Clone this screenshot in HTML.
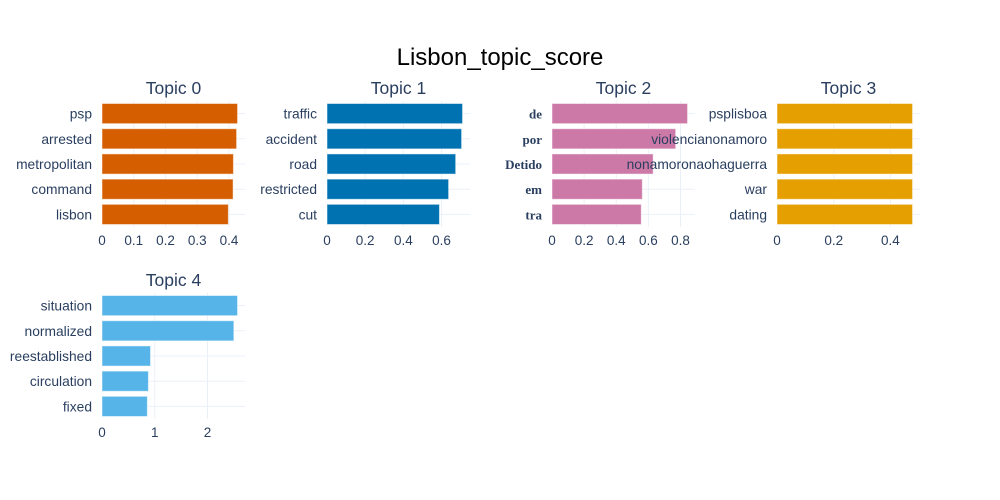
<!DOCTYPE html>
<html><head><meta charset="utf-8">
<style>
html,body{margin:0;padding:0;background:#fff;}
svg{display:block;font-family:"Liberation Sans",sans-serif;}
</style></head>
<body>
<svg id="chart" width="1000" height="500" viewBox="0 0 1000 500">
<text x="500" y="65" text-anchor="middle" font-size="24" fill="#000">Lisbon_topic_score</text>
</svg>
<script>
const topicTitles = ["Topic 0","Topic 1","Topic 2","Topic 3","Topic 4"];
const words0 = ["psp","arrested","metropolitan","command","lisbon"];
const words1 = ["traffic","accident","road","restricted","cut"];
const words2 = ["de","por","Detido","em","tra"];
const words3 = ["psplisboa","violencianonamoro","nonamoronaohaguerra","war","dating"];
const words4 = ["situation","normalized","reestablished","circulation","fixed"];
const scores0 = [0.427,0.424,0.414,0.413,0.398];
const scores1 = [0.71,0.705,0.674,0.637,0.589];
const scores2 = [0.844,0.77,0.63,0.5625,0.556];
const scores3 = [0.478,0.478,0.478,0.478,0.478];
const scores4 = [2.57,2.50,0.92,0.88,0.86];
const ticks0 = [0,0.1,0.2,0.3,0.4];
const ticks1 = [0,0.2,0.4,0.6];
const ticks2 = [0,0.2,0.4,0.6,0.8];
const ticks3 = [0,0.2,0.4];
const ticks4 = [0,1,2];

const words=[words0,words1,words2,words3,words4];
const scores=[scores0,scores1,scores2,scores3,scores4];
const ticks=[ticks0,ticks1,ticks2,ticks3,ticks4];
const colors=["#D55E00","#0072B2","#CC79A7","#E69F00","#56B4E9"];
const NS="http://www.w3.org/2000/svg";
const svg=document.getElementById('chart');
function mk(tag,attrs,parent){const e=document.createElementNS(NS,tag);for(const k in attrs)e.setAttribute(k,attrs[k]);(parent||svg).appendChild(e);return e;}
const W=143,H=126;
for(let t=0;t<5;t++){
  const col=t%4,row=Math.floor(t/4);
  const x0=102+col*225, y0=101+row*192;
  const g=mk('g',{});
  
  
  const maxV=Math.max(...scores[t]);
  const xmax=maxV*1.055;
  const xs=v=>x0+v/xmax*W;
  const band=H/words[t].length;
  const yc=i=>y0+band*(i+0.5);
  ticks[t].forEach(v=>{ if(v>0){const l=mk('line',{x1:xs(v),x2:xs(v),y1:y0,y2:y0+H,stroke:'#ebf0f8','stroke-width':1},g);
    
    }});
  words[t].forEach((w,i)=>{const l=mk('line',{x1:x0,x2:x0+W,y1:yc(i),y2:yc(i),stroke:'#ebf0f8','stroke-width':1},g);
    
    });
  words[t].forEach((w,i)=>{
    const r=mk('rect',{x:xs(0),y:yc(i)-band*0.4,width:xs(scores[t][i])-xs(0),height:band*0.8,fill:colors[t],stroke:'rgba(255,255,255,0.5)','stroke-width':1},g);
    
    
  });
  words[t].forEach((w,i)=>{
    const tx=mk('text',{x:x0-10,y:yc(i)+5,'text-anchor':'end','font-size':13.8,fill:'#2a3f5f'},g);
    if(t===2){tx.setAttribute('font-family','"Liberation Serif",serif');tx.setAttribute('font-weight','bold');tx.setAttribute('font-size','13');}
    tx.textContent=w;
    
    
  });
  ticks[t].forEach(v=>{
    const tx=mk('text',{x:xs(v),y:y0+H+18,'text-anchor':'middle','font-size':13.5,fill:'#2a3f5f'},g);
    tx.textContent=String(v);
    
    
  });
  const st=mk('text',{x:x0+W/2,y:y0-7,'text-anchor':'middle','font-size':17.5,fill:'#2a3f5f'},g);
  st.textContent=topicTitles[t];
  
  
}
</script>
</body></html>
